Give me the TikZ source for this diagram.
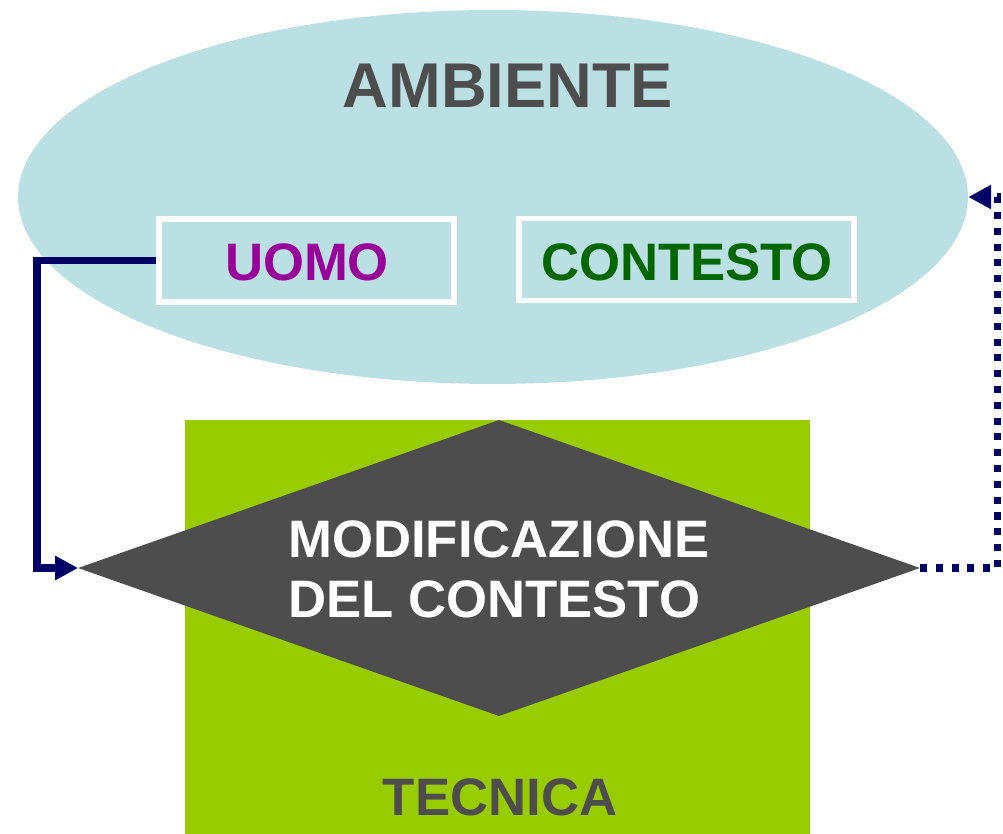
\documentclass[tikz,border=0pt]{standalone}
\usepackage{fontspec}
\setmainfont{Liberation Sans}
\usepackage{tikz}
\usetikzlibrary{arrows.meta,positioning}
\usetikzlibrary{shapes.geometric}

\definecolor{cielo}{HTML}{BAE0E4}
\definecolor{viola}{HTML}{990099}
\definecolor{verde}{HTML}{006600}
\definecolor{grigio}{HTML}{4D4D4D}
\definecolor{lime}{HTML}{99CC00}
\definecolor{blu}{HTML}{000066}

\begin{document}
\begin{tikzpicture}[x=0.02cm, y=-0.02cm]
        \def\bigfont{\fontsize{36pt}{40pt}\selectfont\bfseries}
        \def\midfont{\fontsize{30pt}{34pt}\selectfont\bfseries}
        \useasboundingbox (0,0) rectangle (1003,834);

        \node (amb) [ellipse, fill=cielo, minimum width=19cm, minimum height=7.48cm, inner sep=0] at (493,197) {};
        \node (ambt) [text=grigio, font=\bigfont] at (508,86) {AMBIENTE};
        \node (uomo) [draw=white, line width=3.4pt, minimum width=5.9cm, minimum height=1.66cm, text=viola, font=\midfont] at (306.5,260.5) {};
        \node (uomot) [text=viola, font=\midfont] at (307,262) {UOMO};
        \node (cont) [draw=white, line width=3.4pt, minimum width=6.7cm, minimum height=1.64cm] at (686.5,259.5) {};
        \node (contt) [text=verde, font=\midfont] at (687,262) {CONTESTO};

        \node (tec) [fill=lime, minimum width=12.5cm, minimum height=8.28cm, inner sep=0] at (497.5,627) {};
        \node (tect) [text=grigio, font=\midfont] at (500,797) {TECNICA};

        \node (mod) [diamond, fill=grigio, minimum width=16.84cm, minimum height=5.92cm, inner sep=0, outer sep=0] at (499,568) {};
        \node (modt) [text=white, align=left, font=\midfont] at (499,569) {MODIFICAZIONE\\DEL CONTESTO};

        % frecce
        \draw [blu, line width=4.5pt, -{Triangle[length=13pt, width=13pt]}] (uomo.west) -- ++(-119,0) |- (mod.west);
        \draw [blu, line width=4pt, dash pattern=on 4pt off 5pt, -{Triangle[length=13pt, width=13pt]}] (mod.east) -- ++(78,0) |- (amb.east);
    \end{tikzpicture}
\end{document}
